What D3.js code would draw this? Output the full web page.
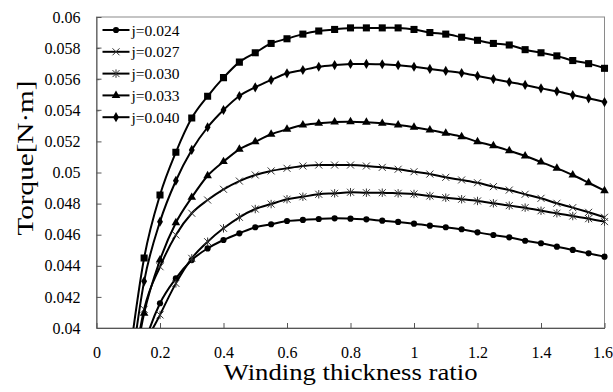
<!DOCTYPE html>
<html>
<head>
<meta charset="utf-8">
<script src="https://cdn.jsdelivr.net/npm/d3@7"></script>
<style>
  body { margin: 0; background: #fff; }
</style>
</head>
<body>
<div id="chart"></div>
<script>
// Chart size and plot margins
const width = 613;
const height = 392;
const margin = { top: 17, right: 8.5, bottom: 64, left: 96.5 };
const serif = "'Liberation Serif', 'DejaVu Serif', serif";

// Data
const ratio = [0.1, 0.15, 0.2, 0.25, 0.3, 0.35, 0.4, 0.45, 0.5, 0.55, 0.6, 0.65, 0.7, 0.75, 0.8, 0.85,
  0.9, 0.95, 1.0, 1.05, 1.1, 1.15, 1.2, 1.25, 1.3, 1.35, 1.4, 1.45, 1.5, 1.55, 1.6];

const j024 = [0.0350, 0.0389, 0.04159, 0.04319, 0.04437, 0.04512, 0.04566, 0.04609, 0.04648, 0.04667,
  0.04688, 0.04695, 0.04701, 0.04705, 0.04703, 0.04699, 0.0469, 0.04682, 0.04671, 0.04658, 0.04648,
  0.04635, 0.04615, 0.04598, 0.04583, 0.04561, 0.04545, 0.04523, 0.04502, 0.0448, 0.04459];
const j027 = [0.0352, 0.0412, 0.04394, 0.04598, 0.04738, 0.04823, 0.04892, 0.04945, 0.04984, 0.0501,
  0.05027, 0.05042, 0.05048, 0.05048, 0.05048, 0.05042, 0.05033, 0.05021, 0.05005, 0.0499, 0.04969,
  0.04952, 0.04934, 0.04909, 0.04887, 0.0486, 0.04834, 0.04802, 0.04774, 0.04744, 0.04712];
const j030 = [0.0340, 0.0386, 0.04084, 0.04287, 0.04448, 0.04555, 0.04641, 0.04712, 0.04765, 0.04797,
  0.04828, 0.04844, 0.0486, 0.04866, 0.04873, 0.0487, 0.0487, 0.04866, 0.04862, 0.04849, 0.04838,
  0.04828, 0.04817, 0.04802, 0.04787, 0.04774, 0.04754, 0.04738, 0.0472, 0.04703, 0.04684];
const j033 = [0.0352, 0.04094, 0.04437, 0.04677, 0.0484, 0.04979, 0.0507, 0.05149, 0.05198, 0.05246,
  0.05278, 0.05305, 0.05316, 0.05325, 0.05327, 0.05323, 0.05316, 0.05305, 0.05291, 0.05273, 0.05252,
  0.0523, 0.05198, 0.05172, 0.0514, 0.05106, 0.05067, 0.05027, 0.04984, 0.04934, 0.04883];
const j040 = [0.0360, 0.0430, 0.04684, 0.04947, 0.05145, 0.05291, 0.05402, 0.05492, 0.05548, 0.05595,
  0.05638, 0.05659, 0.0568, 0.05691, 0.05698, 0.05698, 0.05696, 0.0569, 0.0568, 0.05666, 0.05653,
  0.0564, 0.05621, 0.05601, 0.05582, 0.05563, 0.05541, 0.05522, 0.05498, 0.05477, 0.05453];
// top curve (square markers) has no legend entry in the figure
const jTop = [0.0375, 0.0445, 0.04855, 0.0513, 0.0535, 0.0549, 0.0561, 0.0571, 0.0577, 0.0583,
  0.0586, 0.0589, 0.0591, 0.0592, 0.0593, 0.0593, 0.0593, 0.0593, 0.0592, 0.0590, 0.0589,
  0.0587, 0.0585, 0.0583, 0.0582, 0.0579, 0.0577, 0.0575, 0.0572, 0.0570, 0.0567];

const xTicks = [0, 0.2, 0.4, 0.6, 0.8, 1, 1.2, 1.4, 1.6];
const yTicks = [0.04, 0.042, 0.044, 0.046, 0.048, 0.05, 0.052, 0.054, 0.056, 0.058, 0.06];

const series = [
  { name: "j=0.024", values: j024, marker: "circle", legend: true },
  { name: "j=0.027", values: j027, marker: "x", legend: true },
  { name: "j=0.030", values: j030, marker: "asterisk", legend: true },
  { name: "j=0.033", values: j033, marker: "triangle", legend: true },
  { name: "j=0.040", values: j040, marker: "diamond", legend: true },
  { name: "", values: jTop, marker: "square", legend: false }
];

const svg = d3.select("#chart")
  .append("svg")
  .attr("width", width)
  .attr("height", height);

const x = d3.scaleLinear().domain([0, 1.6]).range([margin.left, width - margin.right]);
const y = d3.scaleLinear().domain([0.04, 0.06]).range([height - margin.bottom, margin.top]);

// clip below the x axis (curves run off the bottom)
svg.append("clipPath").attr("id", "clip")
  .append("rect")
  .attr("x", margin.left)
  .attr("y", 0)
  .attr("width", width - margin.left)
  .attr("height", height - margin.bottom);

// Plot frame
svg.append("rect")
  .attr("x", margin.left)
  .attr("y", margin.top)
  .attr("width", x(1.6) - margin.left)
  .attr("height", y(0.04) - margin.top)
  .attr("fill", "none")
  .attr("stroke", "#8a8a8a")
  .attr("stroke-width", 1);

// Axes with inward ticks
const xAxis = svg.append("g")
  .attr("transform", `translate(0,${y(0.04)})`)
  .call(d3.axisBottom(x).tickValues(xTicks).tickSizeInner(-5).tickSizeOuter(0)
    .tickPadding(19).tickFormat(d => d3.format("~g")(d)));
xAxis.select(".domain").attr("stroke", "#555");
xAxis.selectAll(".tick line").attr("stroke", "#555");
xAxis.selectAll(".tick text")
  .attr("font-family", serif)
  .attr("font-size", 16)
  .attr("dx", d => d === 1.6 ? -2 : 0);

const yAxis = svg.append("g")
  .attr("transform", `translate(${margin.left},0)`)
  .call(d3.axisLeft(y).tickValues(yTicks).tickSizeInner(-5).tickSizeOuter(0)
    .tickPadding(16).tickFormat(d => d3.format("~g")(d)));
yAxis.select(".domain").attr("stroke", "#555");
yAxis.selectAll(".tick line").attr("stroke", "#555");
yAxis.selectAll(".tick text")
  .attr("font-family", serif)
  .attr("font-size", 16);

// Marker drawing
function markerPath(type, s) {
  if (type === "x") {
    return `M${-s},${-s}L${s},${s}M${-s},${s}L${s},${-s}`;
  }
  if (type === "asterisk") {
    return `M${-s},${-s}L${s},${s}M${-s},${s}L${s},${-s}M0,${-s * 1.2}L0,${s * 1.2}`;
  }
  const sym = {
    circle: d3.symbol(d3.symbolCircle, 30),
    square: d3.symbol(d3.symbolSquare, 50),
    triangle: d3.symbol(d3.symbolTriangle, 32),
    diamond: d3.symbol(d3.symbolDiamond, 30)
  }[type];
  return sym();
}

function drawMarker(g, type, cx, cy) {
  const stroked = type === "x" || type === "asterisk";
  g.append("path")
    .attr("d", markerPath(type, 3.5))
    .attr("transform", `translate(${cx},${cy})`)
    .attr("fill", stroked ? "none" : "#000")
    .attr("stroke", stroked ? "#333" : "none")
    .attr("stroke-width", 1);
}

const line = d3.line()
  .x((d, i) => x(ratio[i]))
  .y(d => y(d))
  .curve(d3.curveCatmullRom.alpha(0));

const plot = svg.append("g").attr("clip-path", "url(#clip)");

series.forEach(s => {
  plot.append("path")
    .attr("d", line(s.values))
    .attr("fill", "none")
    .attr("stroke", "#000")
    .attr("stroke-width", 2);
  s.values.forEach((v, i) => drawMarker(plot, s.marker, x(ratio[i]), y(v)));
});

// Legend
const legend = svg.append("g");
legend.append("rect")
  .attr("x", margin.left + 3)
  .attr("y", 19)
  .attr("width", 86)
  .attr("height", 108)
  .attr("fill", "#fff");
series.filter(s => s.legend).forEach((s, i) => {
  const ly = 30 + i * 21.8;
  legend.append("line")
    .attr("x1", 102.5).attr("x2", 129.5)
    .attr("y1", ly).attr("y2", ly)
    .attr("stroke", "#000").attr("stroke-width", 2);
  drawMarker(legend, s.marker, 116, ly);
  legend.append("text")
    .attr("x", 131.5)
    .attr("y", ly + 5.5)
    .attr("font-family", serif)
    .attr("font-size", 15.5)
    .text(s.name);
});
// left axis ticks stay visible over legend box
legend.selectAll(null)
  .data(yTicks.filter(t => y(t) > 19 && y(t) < 127))
  .enter().append("line")
  .attr("x1", margin.left).attr("x2", margin.left + 5)
  .attr("y1", d => y(d)).attr("y2", d => y(d))
  .attr("stroke", "#555");

// Axis titles
svg.append("text")
  .attr("x", (margin.left + width - margin.right) / 2)
  .attr("y", 380)
  .attr("text-anchor", "middle")
  .attr("textLength", 254)
  .attr("lengthAdjust", "spacingAndGlyphs")
  .attr("font-family", serif)
  .attr("font-size", 23)
  .text("Winding thickness ratio");

svg.append("text")
  .attr("transform", "translate(33,158) rotate(-90)")
  .attr("text-anchor", "middle")
  .attr("textLength", 155)
  .attr("lengthAdjust", "spacingAndGlyphs")
  .attr("font-family", serif)
  .attr("font-size", 23)
  .text("Torque[N·m]");
</script>
</body>
</html>
